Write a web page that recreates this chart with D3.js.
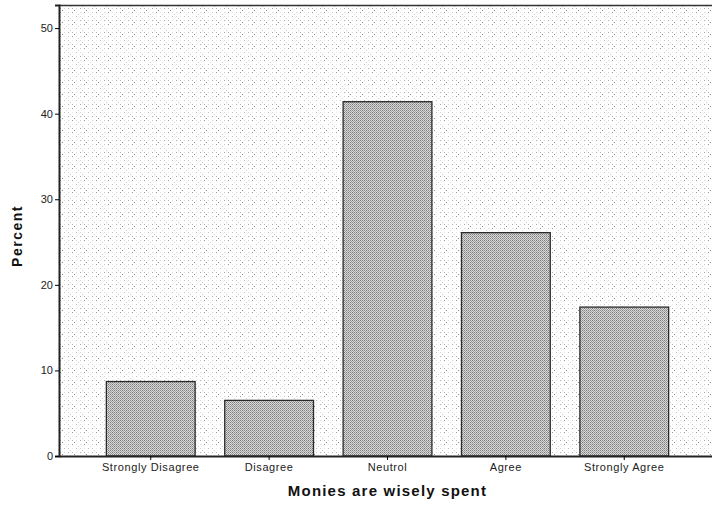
<!DOCTYPE html>
<html><head><meta charset="utf-8">
<script src="https://cdn.jsdelivr.net/npm/d3@7"></script>
<style>body{margin:0;background:#fff}svg{display:block}</style>
</head><body>
<svg id="c" width="712" height="518"></svg>
<script>
const categories = ["Strongly Disagree","Disagree","Neutrol","Agree","Strongly Agree"];
const percents = [8.7, 6.5, 41.4, 26.1, 17.4];
const yTicks = [0,10,20,30,40,50];
const xTitle = "Monies are wisely spent";
const yTitle = "Percent";

const svg = d3.select("#c");
const m = {left:59, top:5, right:-4, bottom:62};
const W = 712, H = 518;
const x0 = m.left, x1 = W - m.right, y0 = H - m.bottom, y1 = m.top;
const FF = "Liberation Sans, Arial, sans-serif";

const defs = svg.append("defs");
const bg = defs.append("pattern").attr("id","bgp").attr("patternUnits","userSpaceOnUse")
  .attr("width",12).attr("height",12);
bg.append("rect").attr("width",12).attr("height",12).attr("fill","#fff");
[[0,0,"#9a9a9a"],[4,4,"#c0c0c0"],[8,0,"#cfcfcf"],[0,8,"#b4b4b4"],[8,8,"#a8a8a8"],[4,0,"#e0e0e0"],
 [8,4,"#d6d6d6"],[0,4,"#e4e4e4"],[4,8,"#dadada"],[2,10,"#888"],[10,6,"#c8c8c8"],[6,2,"#d0d0d0"]].forEach(([px,py,c])=>
  bg.append("rect").attr("x",px).attr("y",py).attr("width",1).attr("height",1).attr("fill",c));

const bp = defs.append("pattern").attr("id","barp").attr("patternUnits","userSpaceOnUse")
  .attr("width",4).attr("height",4);
bp.append("rect").attr("width",4).attr("height",4).attr("fill","#d8d8d8");
[[0,0,"#777"],[2,0,"#8c8c8c"],[1,1,"#a0a0a0"],[3,1,"#999"],[0,2,"#888"],[2,2,"#7c7c7c"],[1,3,"#9c9c9c"],[3,3,"#a4a4a4"]].forEach(([px,py,c])=>
  bp.append("rect").attr("x",px).attr("y",py).attr("width",1).attr("height",1).attr("fill",c));

const x = d3.scaleBand().domain(categories).range([x0, x1]).paddingInner(0.25).paddingOuter(0.4);
const y = d3.scaleLinear().domain([0, 52.7]).range([y0, y1]);

svg.append("rect").attr("x",x0).attr("y",y1).attr("width",x1-x0).attr("height",y0-y1)
  .attr("fill","url(#bgp)");

svg.selectAll(".bar").data(percents).enter().append("rect")
  .attr("x",(d,i)=>x(categories[i]))
  .attr("y",d=>y(d))
  .attr("width",x.bandwidth())
  .attr("height",d=>y0-y(d))
  .attr("fill","url(#barp)")
  .attr("stroke","#2a2a2a").attr("stroke-width",1.3);

svg.append("line").attr("x1",x0).attr("x2",x1).attr("y1",y1+0.5).attr("y2",y1+0.5)
  .attr("stroke","#333").attr("stroke-width",1.5);

const yAxis = svg.append("g").attr("transform",`translate(${x0},0)`)
  .call(d3.axisLeft(y).tickValues(yTicks).tickSize(4).tickPadding(2).tickFormat(d3.format("d")));
yAxis.select(".domain").attr("stroke","#222").attr("stroke-width",2);
yAxis.selectAll("text").attr("font-family",FF).attr("font-size",11).attr("fill","#222");

const xAxis = svg.append("g").attr("transform",`translate(0,${y0})`)
  .call(d3.axisBottom(x).tickSize(4).tickPadding(3).tickSizeOuter(0));
xAxis.select(".domain").attr("stroke","#222").attr("stroke-width",2);
xAxis.selectAll("text").attr("font-family",FF).attr("font-size",11).attr("letter-spacing",0.6).attr("fill","#222");

svg.append("text").attr("x",(x(categories[2])+x.bandwidth()/2)).attr("y",496)
  .attr("text-anchor","middle").attr("font-family",FF).attr("letter-spacing",1.2)
  .attr("font-weight","bold").attr("font-size",15).attr("fill","#111").text(xTitle);

svg.append("text").attr("transform",`translate(22,236) rotate(-90)`)
  .attr("text-anchor","middle").attr("font-family",FF).attr("letter-spacing",1.5)
  .attr("font-weight","bold").attr("font-size",14).attr("fill","#111").text(yTitle);
</script>
</body></html>
